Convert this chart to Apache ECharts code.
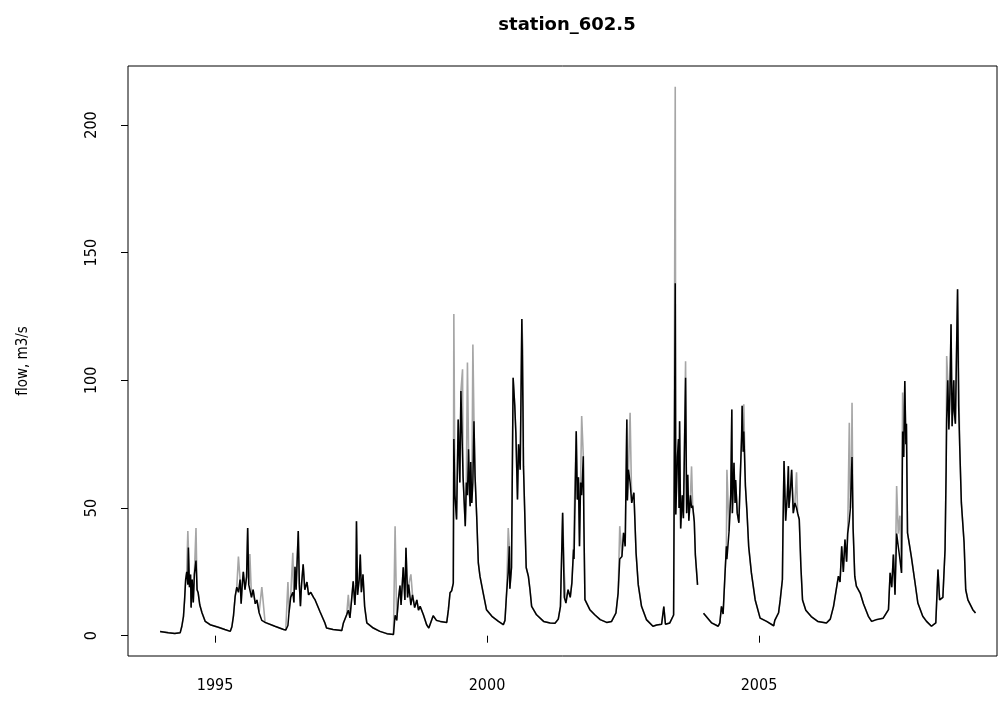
<!DOCTYPE html>
<html>
<head>
<meta charset="utf-8">
<script src="https://cdn.jsdelivr.net/npm/echarts@6/dist/echarts.min.js"></script>
<style>
html,body{margin:0;padding:0;background:#fff;}
#chart{width:1000px;height:704px;}
</style>
</head>
<body>
<div id="chart"></div>
<script>
// Observed flow (black line): decimal year, flow m3/s
const obsYears = [
1993.99,1994.14,1994.26,1994.36,1994.39,1994.42,1994.44,1994.46,1994.48,1994.50,1994.51,1994.53,1994.55,1994.56,1994.58,1994.60,1994.62,1994.65,1994.67,1994.69,1994.72,1994.76,1994.82,1994.91,1995.06,1995.18,1995.28,
1995.31,1995.34,1995.37,1995.40,1995.43,1995.46,1995.48,1995.50,1995.52,1995.55,1995.58,1995.60,1995.62,1995.64,1995.67,1995.70,1995.74,1995.77,1995.81,1995.86,1995.92,1996.10,1996.26,
1996.30,1996.34,1996.36,1996.39,1996.43,1996.45,1996.47,1996.49,1996.53,1996.55,1996.57,1996.59,1996.62,1996.65,1996.69,1996.72,1996.76,1996.81,1996.84,1996.93,1997.02,
1997.05,1997.17,1997.33,1997.36,1997.42,1997.45,1997.48,1997.51,1997.54,1997.57,1997.59,1997.60,1997.62,1997.65,1997.67,1997.69,1997.72,1997.75,1997.79,1997.91,1998.03,1998.16,1998.28,
1998.30,1998.31,1998.34,1998.37,1998.40,1998.42,1998.46,1998.49,1998.51,1998.54,1998.56,1998.60,1998.63,1998.67,1998.71,1998.74,1998.77,1998.83,1998.89,1998.93,1998.96,1999.01,1999.07,1999.14,
1999.26,1999.29,1999.32,1999.35,1999.38,1999.39,1999.41,1999.44,1999.47,1999.50,1999.52,1999.55,1999.56,1999.60,1999.62,1999.64,1999.66,1999.68,1999.69,1999.70,1999.72,1999.74,1999.76,1999.78,1999.81,1999.84,1999.87,1999.93,1999.99,2000.09,2000.21,2000.30,
2000.33,2000.36,2000.39,2000.41,2000.42,2000.45,2000.48,2000.51,2000.53,2000.56,2000.58,2000.61,2000.64,2000.66,2000.67,2000.69,2000.72,2000.76,2000.79,2000.82,2000.91,2001.04,2001.16,
2001.25,2001.31,2001.35,2001.39,2001.42,2001.45,2001.49,2001.53,2001.56,2001.59,2001.60,2001.64,2001.66,2001.68,2001.70,2001.72,2001.74,2001.77,2001.78,2001.80,2001.89,2001.98,2002.08,2002.20,
2002.29,2002.37,2002.41,2002.44,2002.48,2002.51,2002.54,2002.57,2002.58,2002.60,2002.63,2002.66,2002.70,2002.74,2002.78,2002.84,2002.93,2003.05,
2003.12,2003.21,2003.25,2003.28,2003.36,2003.43,2003.46,2003.47,2003.50,2003.52,2003.53,2003.54,2003.56,2003.59,2003.61,2003.65,2003.67,2003.69,2003.71,2003.74,2003.76,2003.78,2003.81,2003.83,2003.87,
2003.93,
2003.98,2004.13,2004.25,
2004.28,2004.31,2004.34,2004.37,2004.40,2004.41,2004.45,2004.48,2004.50,2004.51,2004.54,2004.56,2004.57,2004.60,2004.63,2004.66,2004.68,2004.69,2004.71,2004.72,2004.75,2004.78,2004.81,2004.86,2004.93,2005.02,2005.14,2005.27,
2005.29,2005.36,2005.39,2005.43,2005.44,2005.46,2005.49,2005.52,2005.54,2005.55,2005.58,2005.60,2005.63,2005.66,2005.69,2005.71,2005.74,2005.77,2005.80,2005.86,2005.96,2006.08,
2006.24,2006.31,2006.37,2006.43,2006.46,2006.49,2006.52,2006.55,2006.58,2006.61,2006.63,2006.66,2006.68,2006.70,2006.71,2006.73,2006.76,2006.79,2006.86,2006.92,2007.01,2007.07,2007.16,2007.28,
2007.38,2007.41,2007.44,2007.47,2007.50,2007.53,2007.56,2007.59,2007.62,2007.64,2007.66,2007.68,2007.70,2007.71,2007.73,2007.77,2007.80,2007.86,2007.92,2008.01,
2008.08,2008.17,2008.25,2008.29,2008.32,2008.38,2008.42,2008.44,2008.45,2008.47,2008.49,2008.51,2008.53,2008.55,2008.58,2008.59,2008.61,2008.65,2008.67,2008.69,2008.72,2008.77,2008.80,2008.84,2008.93,2008.98
];
const obsFlow = [
1.6,1.2,0.9,1.2,3.7,7.6,14,22,25,20,34.5,19,24,11,22,13,24,29.4,18,16.8,12,9,5.6,4.3,3.3,2.4,1.7,
3.5,8,15.4,19,17,22,12.5,20,25,18,23,42.2,20,18,15,18,12.5,14,9,6,5.2,3.7,2.4,
2.2,4,9,15,17,13,27,18,41,20,11.5,20,28,18,21,16,17,15,14,9.4,5,
3.0,2.4,2.0,5,8.2,10,7,14,21.3,12,20,44.8,16,22,31.8,17,24,11.5,5,3.0,1.7,0.8,0.5,
1.0,8,6,14,19.6,12,26.8,14,34.4,15,20,12,16,11,14,10,11.5,8.2,4.3,3,2.6,7.8,6,5.6,
5.2,10.2,16.8,17.6,20.6,77,55,45.5,84.7,60,95.8,70,62,42.9,60,55,73,55,50.7,68,52,60,84,62.5,46.8,28.5,23.3,16.7,10.2,7.6,5.6,4.3,
6,16.7,25,35,18.4,26.7,101,90,79.5,53.3,75,65,124,90,66.4,51,26.7,23.3,18,11.5,8.2,5.6,5.0,
4.9,6.5,11.5,48.1,15,12.8,18,15,20.7,33.7,30,80.1,53.3,62,35,60,55,70.3,45,14.1,10.2,8.2,6.3,5.2,
5.6,8.9,16.7,30,31,40.3,35,84.7,53,65,60,52,56,32.4,20,11.5,6.3,3.7,
4.2,4.5,11.4,4.5,5,8.1,138,47.5,70,77,50,84,42,55,46,101,48,63,45,55,50,51,44.7,31.6,19.9,
'-',
8.8,5,3.7,
5,11.5,8.5,22,35,30,41,55,88.6,48,67.7,52,61,48,44.2,65,78,90,72,80,58.6,48,35,24.6,14,6.9,5.6,3.9,
6,9,14,22,41,68.4,45,55,66.4,50,58,65,48,52,50,48,45.5,27,14,10,7.5,5.6,
5.0,6.5,11.5,19.4,23.3,21,35,25,37.7,29,40,45,50,63.8,70,42,23.3,19.4,16.7,12.5,7.6,5.6,6.3,6.8,
10.2,24.6,19,31.8,16,40,40,30,24.6,80,70,99.7,75,83,40.3,35,31,22,12.8,7.6,
5.6,3.7,5,25.9,14,15,33.7,65,85,100,80.8,95,122,82,100,88,83,135.7,90,74,52,36.4,18,14,10.2,8.9
];
// Grey line peaks that rise above the black line
const spikeYears = [1994.50,1994.65,1995.43,1995.64,1995.86,1996.34,1996.43,1997.45,1998.31,1998.60,1999.39,1999.55,1999.64,1999.74,2000.39,2000.66,2001.42,2001.60,2001.74,2002.44,2002.63,2003.46,2003.65,2003.76,2004.41,2004.72,2005.69,2006.66,2006.71,2007.53,2007.59,2007.64,2008.45,2008.67];
const spikeFlow = [41,42.2,31,32,19,21,32.5,16,42.9,24,126,104.3,107,114,42.2,111,24.6,44.4,86,42.9,87.3,215,107.5,66.3,65,90.6,64,83.4,91.2,58.6,47,95.2,109.5,103];

const xTicks = [1995, 2000, 2005];
const yTicks = [0, 50, 100, 150, 200];

const blackData = obsYears.map((t, i) => [t, obsFlow[i]]);
const greyData = obsYears.map((t, i) => {
  const k = spikeYears.indexOf(t);
  return [t, k >= 0 ? spikeFlow[k] : obsFlow[i]];
});

const narrow = '"Liberation Sans Narrow", "DejaVu Sans Condensed", "Liberation Sans", sans-serif';
const chart = echarts.init(document.getElementById('chart'), null, {renderer: 'canvas'});
chart.setOption({
  animation: false,
  backgroundColor: '#ffffff',
  title: {
    text: 'station_602.5',
    left: 562, top: 11, textAlign: 'center',
    textStyle: {fontFamily: '"DejaVu Sans", sans-serif', fontWeight: 'bold', fontSize: 18, color: '#000'}
  },
  grid: {left: 128, right: 3, top: 66, bottom: 48, show: true, borderColor: '#000', borderWidth: 1, backgroundColor: 'transparent'},
  xAxis: {
    type: 'value', min: 1993.40, max: 2009.375,
    axisLine: {show: false},
    splitLine: {show: false},
    axisTick: {show: true, length: 7, customValues: xTicks, lineStyle: {color: '#000'}},
    axisLabel: {customValues: xTicks, margin: 22, fontSize: 16, color: '#000', fontFamily: narrow, formatter: v => String(v)}
  },
  yAxis: {
    type: 'value', min: -7.95, max: 223.1,
    axisLine: {show: false},
    splitLine: {show: false},
    axisTick: {show: true, length: 7, customValues: yTicks, lineStyle: {color: '#000'}},
    axisLabel: {customValues: yTicks, rotate: 90, margin: 28, fontSize: 16, color: '#000', fontFamily: narrow},
    name: 'flow, m3/s', nameLocation: 'middle', nameGap: 97, nameRotate: 90,
    nameTextStyle: {fontSize: 15, color: '#000', fontFamily: narrow}
  },
  series: [
    {type: 'line', data: greyData, showSymbol: false, lineStyle: {color: '#a6a6a6', width: 1.6}, z: 1},
    {type: 'line', data: blackData, showSymbol: false, lineStyle: {color: '#000', width: 1.5}, z: 2}
  ]
});
</script>
</body>
</html>
